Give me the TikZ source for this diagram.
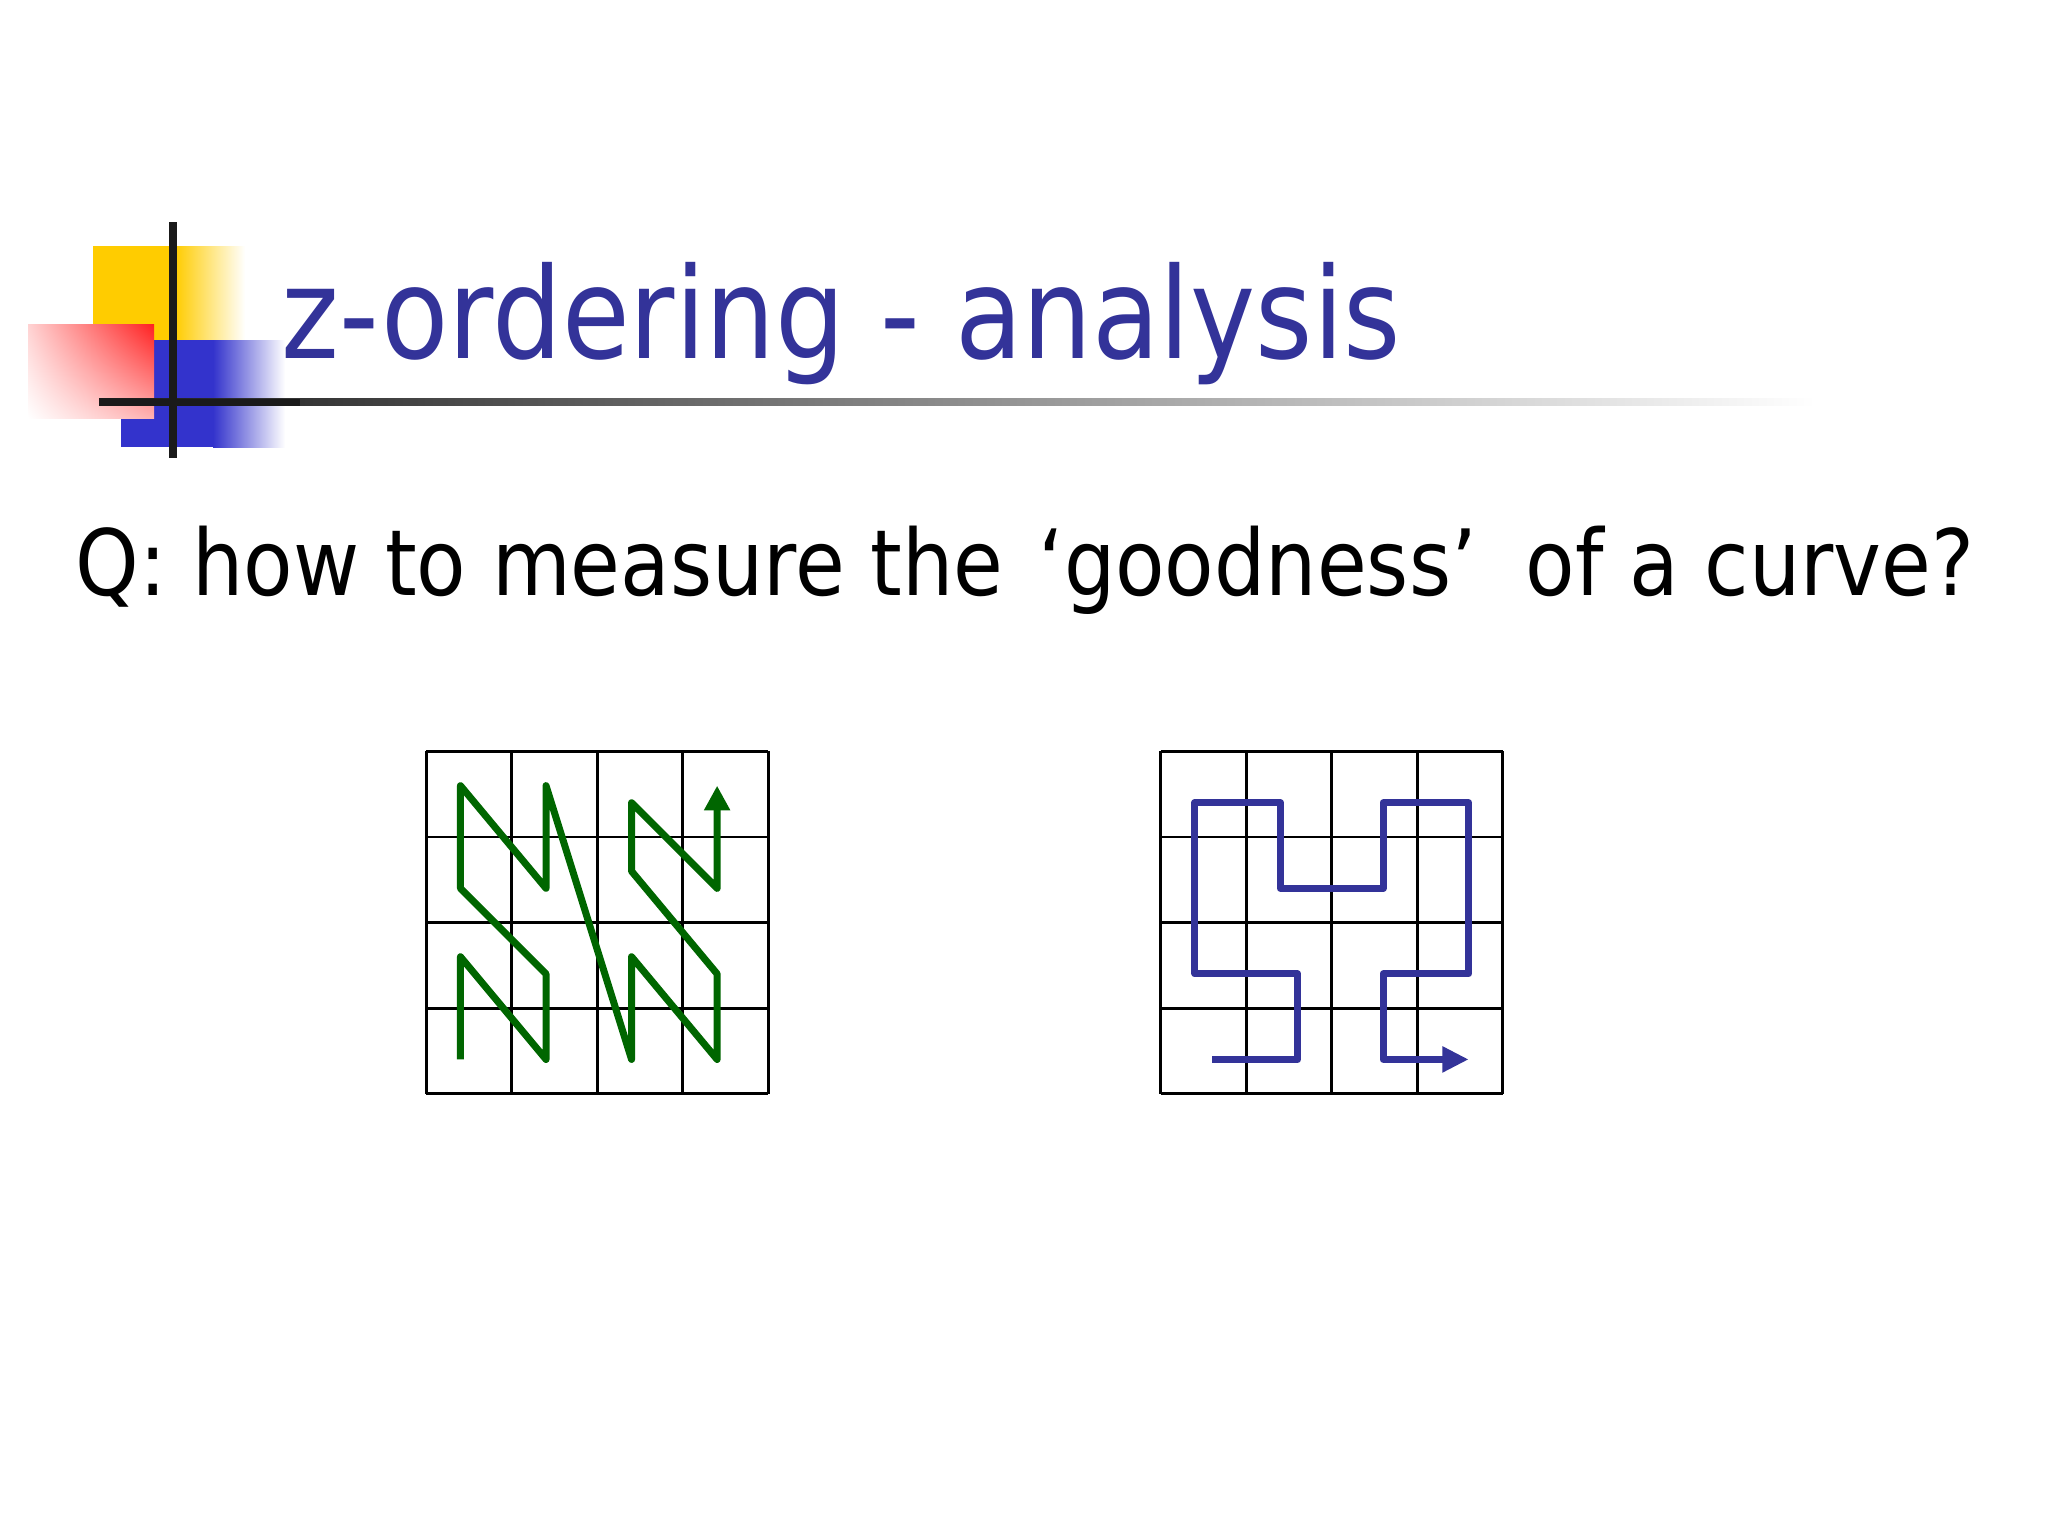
\documentclass[tikz,border=0pt]{standalone}
\usepackage{fontspec}
\setmainfont{DejaVu Sans}[FakeStretch=0.87]
\newfontfamily\questionfont{DejaVu Sans}[FakeStretch=0.885]
\usetikzlibrary{arrows.meta,shadings}
\definecolor{titleblue}{RGB}{51,51,153}
\definecolor{zgreen}{RGB}{0,102,0}
\definecolor{logoyellow}{RGB}{255,204,0}
\definecolor{logoblue}{RGB}{51,51,204}
\definecolor{logored}{RGB}{255,32,32}
\definecolor{barblack}{RGB}{26,26,26}

\tikzset{
  cellgrid/.style={line width=0.8pt},
  zcurve/.style={zgreen, line width=2pt, line join=round, -{Triangle[length=7pt,width=7pt]}},
  hcurve/.style={titleblue, line width=2pt, line join=round, -{Triangle[length=7.5pt,width=7pt]}},
}

\begin{document}
\begin{tikzpicture}[x=0.01cm, y=-0.01cm]
    \useasboundingbox[fill=white] (0,0) rectangle (2048,1536);
    % logo
    \fill[logoyellow] (93,246) rectangle (176,340);
    \shade[left color=logoyellow, right color=white] (175,246) rectangle (245,340);
    \fill[logoblue] (121,340) rectangle (214,447);
    \shade[left color=logoblue, right color=white] (213,340) rectangle (285,447);
    \shade[upper left=logored!20, upper right=logored, lower left=white, lower right=logored!35] (28,324) rectangle (154,418);
    \shade[left color=barblack, middle color=black!40, right color=white] (99,398.5) rectangle (1815,405.5);
    \fill[barblack] (99,398.5) rectangle (300,405.5);
    \draw[barblack, line width=2pt] (173,222) -- (173,458);
    \node[anchor=base west, inner sep=0, text=titleblue, font=\fontsize{36}{40}\selectfont] (title) at (281,358) {z-ordering - analysis};
    \node[anchor=base west, inner sep=0, font=\questionfont\fontsize{26}{30}\selectfont] (question) at (75,595) {Q: how to measure the\hspace{0.1em} ‘goodness’\hspace{0.25em} of a curve?};
    % z-order curve
    \begin{scope}[shift={(4.26cm,-10.93cm)}, x=0.855cm, y=0.855cm]
        \foreach \i in {0,...,4} {
            \draw[cellgrid] (\i,0) -- (\i,4);
            \draw[cellgrid] (0,\i) -- (4,\i);
        }
        \draw[zcurve] (0.4,0.4) -- (0.4,1.6) -- (1.4,0.4) -- (1.4,1.4) -- (0.4,2.4) -- (0.4,3.6) -- (1.4,2.4) -- (1.4,3.6)
            -- (2.4,0.4) -- (2.4,1.6) -- (3.4,0.4) -- (3.4,1.4) -- (2.4,2.6) -- (2.4,3.4) -- (3.4,2.4) -- (3.4,3.6);
    \end{scope}
    % hilbert curve
    \begin{scope}[shift={(11.6cm,-10.93cm)}, x=0.855cm, y=0.855cm]
        \foreach \i in {0,...,4} {
            \draw[cellgrid] (\i,0) -- (\i,4);
            \draw[cellgrid] (0,\i) -- (4,\i);
        }
        \draw[hcurve] (0.6,0.4) -- (1.6,0.4) -- (1.6,1.4) -- (0.4,1.4) -- (0.4,3.4) -- (1.4,3.4) -- (1.4,2.4) -- (2.6,2.4)
            -- (2.6,3.4) -- (3.6,3.4) -- (3.6,1.4) -- (2.6,1.4) -- (2.6,0.4) -- (3.6,0.4);
    \end{scope}
\end{tikzpicture}
\end{document}
